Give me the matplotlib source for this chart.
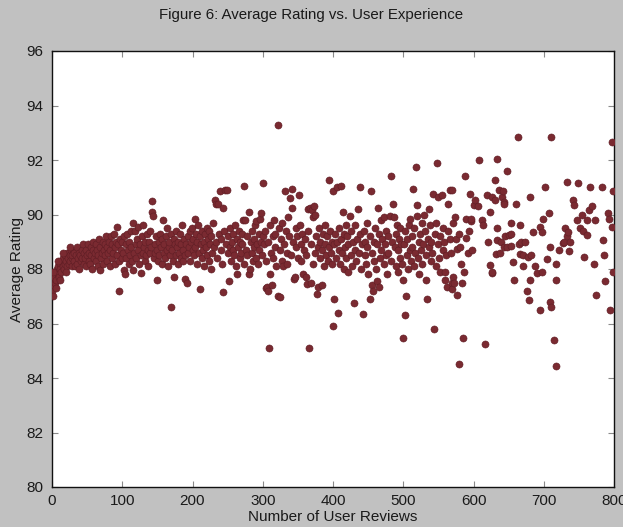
import matplotlib
matplotlib.use("Agg")
import matplotlib.pyplot as plt

# ---------------- data ----------------
reviews_a = [0, 1, 1, 2, 3, 4, 5, 6, 7, 8, 9, 10, 11, 12, 13, 14, 15, 16, 17, 18, 19, 20,
             21, 22, 23, 24, 25, 26, 27, 28, 29, 30, 2, 5, 8, 12, 16, 20, 25, 28]
rating_a = [87.2, 87.6, 87.0, 87.4, 87.7, 87.5, 87.9, 87.6, 88.0, 87.8, 88.1, 87.7, 88.2, 88.0,
            87.9, 88.3, 88.1, 88.4, 88.0, 88.2, 88.5, 88.3, 88.1, 88.6, 88.4, 88.2, 88.5, 88.3,
            88.7, 88.4, 88.1, 88.6, 87.9, 87.3, 88.3, 87.6, 88.6, 87.9, 88.8, 88.5]

reviews_b = [31, 32, 33, 34, 35, 36, 37, 38, 39, 40, 41, 42, 43, 44, 45, 46, 47, 48, 49, 50,
             51, 52, 53, 54, 55, 56, 57, 58, 59, 60, 61, 62, 63, 64, 65, 66, 67, 68, 69, 70,
             71, 72, 73, 74, 75, 76, 77, 78, 79, 80, 81, 82, 83, 84, 85, 86, 87, 88, 89, 90,
             91, 92, 93, 94, 95, 96, 97, 98, 99, 100]
rating_b = [88.3, 88.6, 88.1, 88.5, 88.8, 88.2, 88.4, 88.6, 88.0, 88.5,
            88.3, 88.7, 88.4, 88.9, 88.2, 88.6, 88.4, 88.1, 88.7, 88.5,
            88.9, 88.3, 88.6, 88.2, 88.8, 88.5, 88.0, 88.7, 89.0, 88.4,
            88.6, 88.9, 88.3, 88.7, 88.1, 88.5, 89.1, 87.95, 88.8, 88.4,
            88.6, 89.0, 88.2, 88.7, 88.9, 88.5, 89.2, 88.3, 88.8, 88.6,
            89.0, 88.1, 88.7, 89.2, 88.4, 88.9, 88.6, 89.3, 88.2, 88.8,
            89.0, 89.55, 88.5, 88.9, 88.3, 87.2, 89.1, 88.7, 88.4, 89.0]

reviews_c = [101, 102, 103, 104, 105, 106, 107, 108, 109, 110, 111, 112, 113, 114, 115, 116, 117,
             118, 119, 120, 121, 122, 123, 124, 125, 126, 127, 128, 129, 130, 131, 132, 133, 134,
             135, 136, 137, 138, 139, 140, 141, 142, 143, 144, 145, 146, 147, 148, 149, 150, 151,
             152, 153, 154, 155, 156, 157, 158, 159, 160, 161, 162, 163, 164, 165, 166, 167, 168,
             169, 170, 171, 172, 173, 174, 175, 176, 177, 178, 179, 180, 181, 182, 183, 184, 185,
             186, 187, 188, 189, 190, 191, 192, 193, 194, 195, 196, 197, 198, 199, 200]
rating_c = [88.6, 89.2, 87.95, 87.8, 88.9, 88.4, 89.3, 88.7, 88.2, 89.0,
            88.5, 88.8, 89.4, 88.3, 87.95, 89.7, 88.6, 89.4, 88.9, 88.4,
            89.1, 88.7, 89.55, 88.2, 88.9, 88.5, 87.85, 89.2, 88.6, 89.6,
            88.8, 88.3, 89.0, 88.5, 89.3, 88.7, 88.1, 89.0, 88.6, 89.4,
            88.8, 90.5, 90.1, 89.95, 88.4, 88.9, 88.6, 89.2, 87.6, 88.7,
            88.3, 89.0, 88.5, 89.3, 88.8, 88.2, 89.1, 89.8, 88.6, 88.9,
            88.4, 89.2, 88.7, 89.5, 88.1, 88.8, 89.0, 88.5, 86.6, 89.3,
            88.7, 88.3, 89.1, 87.7, 88.9, 88.5, 89.4, 88.8, 88.2, 89.0,
            88.6, 89.3, 88.4, 88.9, 89.6, 88.7, 88.3, 89.1, 88.5, 87.65,
            88.9, 87.5, 89.2, 88.6, 88.8, 89.4, 88.3, 89.0, 89.5, 88.7]

reviews_d = [201, 202, 203, 204, 205, 206, 207, 208, 209, 210,
             211, 212, 213, 214, 215, 216, 217, 218, 219, 220,
             221, 222, 223, 224, 225, 226, 227, 228, 229, 230,
             232, 233, 234, 235, 237, 238, 239, 240, 241, 242,
             244, 244, 245, 246, 247, 249, 250, 251, 252, 253,
             254, 255, 256, 257, 258, 259, 260, 262, 263, 264,
             265, 266, 267, 268, 269, 270, 271, 272, 273, 274,
             275, 276, 277, 278, 280, 281, 282, 283, 284, 285,
             286, 287, 288, 289, 290, 291, 292, 293, 294, 295,
             296, 297, 298, 299, 300]
rating_d = [89.1, 88.5, 89.85, 88.8, 89.3, 88.2, 89.0, 89.6, 88.6, 89.2,
            87.25, 88.9, 88.4, 89.4, 88.7, 89.0, 88.1, 89.3, 88.8, 89.5,
            88.5, 89.1, 88.3, 89.4, 88.9, 88.0, 89.2, 88.6, 89.7, 88.8,
            90.55, 89.0, 90.4, 88.4, 90.4, 89.3, 90.85, 88.7, 89.1, 88.2,
            90.25, 87.15, 89.4, 90.9, 88.9, 90.9, 88.6, 89.2, 87.55, 88.8,
            89.5, 88.3, 89.0, 88.7, 89.3, 88.5, 89.6, 88.1, 87.8, 89.1,
            88.8, 89.4, 88.4, 89.0, 88.6, 89.3, 88.9, 89.8, 91.05, 88.2,
            89.8, 88.7, 89.2, 88.5, 90.1, 87.8, 88.0, 89.0, 88.6, 89.4,
            88.3, 89.1, 88.8, 89.6, 88.4, 89.75, 88.9, 88.2, 89.3, 88.7,
            89.85, 89.0, 90.05, 88.5, 89.2]

reviews_e = [301, 302, 303, 304, 305, 306, 307, 308, 309, 310,
             311, 312, 313, 314, 315, 316, 317, 318, 319, 321,
             322, 323, 324, 325, 326, 327, 328, 329, 330, 332,
             333, 334, 335, 336, 337, 339, 340, 341, 341.5, 343,
             344, 346, 347, 348, 349, 350, 352, 353, 354, 355,
             356, 358, 359, 360, 361, 362, 363, 364, 365, 366,
             367, 368, 369, 370, 371, 372, 373, 374, 375, 376,
             377, 378, 379, 380, 381, 382, 384, 385, 386, 387,
             388, 389, 390, 392, 393, 394, 395, 396, 397, 398,
             399, 400]
rating_e = [91.15, 88.9, 89.4, 88.3, 87.3, 87.35, 89.0, 87.2, 85.1, 87.8,
            89.6, 88.6, 87.4, 89.2, 88.4, 89.8, 88.8, 89.3, 88.1, 93.3,
            87.0, 89.5, 86.98, 88.7, 89.1, 88.3, 89.7, 88.1, 88.9, 90.85,
            89.4, 88.2, 88.6, 89.9, 89.2, 90.6, 88.5, 90.95, 90.25, 89.0,
            87.65, 87.7, 89.5, 88.8, 89.2, 88.4, 90.7, 89.6, 88.9, 88.3,
            89.3, 87.8, 88.7, 89.1, 88.5, 87.7, 87.45, 89.4, 90.2, 85.1,
            90.25, 87.5, 88.9, 90.15, 88.2, 89.9, 90.3, 90.0, 88.6, 89.2,
            87.1, 88.8, 87.35, 89.5, 88.4, 89.0, 87.4, 88.7, 89.3, 88.1,
            89.6, 88.9, 88.5, 89.2, 88.3, 88.8, 91.25, 89.4, 88.6, 89.0,
            88.2, 90.85]

reviews_f = [400.5, 401, 402, 403, 404, 405, 406, 407, 408, 409,
             410, 411, 412, 413, 414, 415, 416, 417, 418, 419,
             420, 421, 422, 424, 425, 426, 427, 428, 430, 431,
             432, 433, 434, 436, 437, 438, 439, 440, 441, 443,
             444, 445, 446, 447, 448, 449, 450, 452, 453, 454,
             455, 456, 457, 458, 459, 460, 461, 462, 463, 464,
             465, 466, 467, 468, 469, 470, 472, 473, 474, 475,
             476, 477, 478, 479, 481, 482, 483, 484, 486, 486.5,
             488, 489, 490, 491, 492, 493, 494, 495, 496, 497,
             498, 499, 500]
rating_f = [85.9, 88.9, 86.9, 89.3, 88.4, 91.0, 89.0, 86.4, 88.7, 89.5,
            88.2, 89.1, 91.05, 88.6, 90.1, 89.3, 88.0, 88.8, 89.6, 88.4,
            89.2, 87.9, 88.9, 89.95, 88.5, 89.4, 88.1, 89.0, 86.75, 88.7,
            89.6, 88.3, 89.1, 90.2, 88.6, 89.3, 91.0, 88.0, 88.9, 86.35,
            89.4, 88.5, 89.0, 88.2, 89.7, 88.8, 87.8, 86.9, 89.2, 90.85,
            87.4, 88.6, 87.2, 89.0, 88.3, 89.5, 88.0, 87.55, 88.9, 90.25,
            87.35, 89.3, 88.4, 89.8, 88.7, 89.1, 89.9, 88.2, 88.9, 89.4,
            88.5, 87.8, 89.2, 88.6, 89.95, 91.4, 88.3, 89.0, 90.4, 89.9,
            88.8, 89.3, 88.1, 89.6, 88.7, 87.9, 89.1, 88.4, 89.5, 88.9,
            88.2, 85.45, 87.6]

reviews_g = [501, 502, 503, 504, 505, 506, 507, 508, 509, 510,
             511, 512, 513, 514, 515, 516, 517, 518, 519, 520,
             521, 522, 523, 524, 525, 526, 527, 528, 530, 531,
             532, 533, 534, 535, 536, 537, 538, 539, 540, 541,
             543, 544, 545, 546, 547, 548, 549, 550, 551, 552,
             553, 555, 556, 557, 558, 559, 560, 561, 562, 563,
             564, 566, 567, 568, 569, 569.5, 570, 570.5, 571, 572,
             574, 574.5, 576, 577, 579, 580, 581, 582, 583, 585,
             586, 588, 589, 590, 592, 593, 595, 596, 597, 598,
             600]
rating_g = [88.9, 86.3, 89.4, 87.0, 88.5, 89.1, 88.0, 89.6, 88.7, 89.85,
            88.3, 89.2, 88.8, 90.95, 88.1, 89.5, 88.6, 91.75, 90.35, 89.95,
            88.4, 89.0, 87.8, 89.3, 88.7, 89.7, 88.2, 88.9, 90.0, 89.4,
            88.5, 87.6, 86.9, 89.1, 90.2, 88.8, 89.6, 88.3, 89.0, 88.6,
            90.75, 85.8, 89.3, 88.1, 89.7, 91.9, 88.9, 90.65, 88.4, 89.2,
            87.9, 90.7, 89.5, 88.7, 89.0, 87.9, 87.6, 88.5, 87.35, 89.4,
            90.4, 90.9, 89.1, 88.6, 87.5, 87.25, 90.9, 89.7, 87.7, 87.5,
            89.9, 89.1, 87.05, 88.75, 89.3, 84.5, 88.8, 88.2, 87.5, 85.45,
            87.9, 91.4, 89.15, 89.85, 88.6, 89.4, 90.75, 89.75, 89.85, 88.7,
            90.35]

reviews_h = [602, 607, 607.5, 612, 614, 616, 619, 621, 623, 624,
             626, 626.5, 627, 630, 631, 632, 633, 633.5, 634, 637,
             638, 638.5, 641, 642, 643, 643.5, 644, 645, 647, 648,
             651, 653, 653.5, 654, 656, 657, 661, 664, 665, 666,
             666.5, 668, 670, 671, 673, 676, 678, 679, 680, 681,
             682, 685, 687, 691, 694, 695, 697, 698, 699]
rating_h = [90.55, 90.3, 92.0, 89.8, 89.6, 85.25, 90.7, 89.0, 90.1, 88.15,
            90.65, 87.85, 87.9, 91.25, 90.55, 88.55, 89.5, 89.05, 92.05, 90.9,
            88.6, 89.0, 90.65, 90.85, 88.8, 90.45, 90.4, 89.2, 88.8, 91.6,
            89.25, 88.85, 89.3, 89.7, 88.25, 87.6, 90.4, 92.85, 88.9, 89.6,
            88.55, 89.0, 88.1, 88.5, 89.0, 87.2, 88.45, 86.85, 90.65, 87.6,
            88.5, 89.35, 88.1, 87.85, 89.55, 86.5, 89.35, 87.9, 89.85]

reviews_i = [702, 705, 708, 709, 709.5, 710, 711, 715, 717, 717.5,
             718, 722, 727, 729, 730, 732.6, 733, 735, 736, 737,
             742, 742.5, 747, 749, 752, 754, 756, 757, 761, 761.5,
             765, 766, 768, 771.5, 773, 775, 782.5, 784, 786, 787,
             792, 793, 794, 796.7, 797.6, 798, 799]
rating_i = [91.0, 88.35, 90.05, 88.8, 86.8, 86.6, 92.85, 85.4, 87.6, 88.2,
            84.45, 88.7, 88.95, 89.0, 89.5, 91.2, 89.2, 89.35, 88.65, 89.0,
            90.55, 90.35, 89.8, 91.15, 89.5, 90.0, 89.4, 88.45, 89.8, 89.25,
            90.15, 91.0, 90.3, 88.2, 89.8, 87.05, 91.0, 89.05, 88.5, 87.55,
            90.05, 89.85, 86.5, 89.55, 92.65, 87.9, 90.85]

x_ticks = [0, 100, 200, 300, 400, 500, 600, 700, 800]
y_ticks = [80, 82, 84, 86, 88, 90, 92, 94, 96]

title_text = "Figure 6: Average Rating vs. User Experience"
x_label = "Number of User Reviews"
y_label = "Average Rating"

# ---------------- drawing ----------------
plt.rcParams['font.family'] = ['Liberation Sans', 'DejaVu Sans']

reviews, ratings = [], []
for xs, ys in [(reviews_a, rating_a), (reviews_b, rating_b), (reviews_c, rating_c),
               (reviews_d, rating_d), (reviews_e, rating_e), (reviews_f, rating_f),
               (reviews_g, rating_g), (reviews_h, rating_h), (reviews_i, rating_i)]:
    for xv, yv in zip(xs, ys):
        reviews.append(xv)
        ratings.append(yv)

BG = '#c1c1c1'
fig = plt.figure(figsize=(6.23, 5.27), dpi=100, facecolor=BG)
ax = fig.add_axes([52 / 623, 1 - 487 / 527, (614 - 52) / 623, (487 - 51) / 527])
ax.set_facecolor('white')

ax.scatter(reviews, ratings, s=26, c='#7a2a31', edgecolors='#5e1d24', linewidths=0.4, zorder=3)

ax.set_xlim(0, 800)
ax.set_ylim(80, 96)
ax.set_xticks(x_ticks)
ax.set_yticks(y_ticks)
ax.tick_params(direction='in', length=4, width=0.8, color='#8a8a8a',
               top=True, right=True, labelsize=11, labelcolor='#1a1a1a')
ax.tick_params(axis='x', pad=5)
ax.tick_params(axis='y', pad=6)
for sp in ax.spines.values():
    sp.set_color('#111111')
    sp.set_linewidth(1.0)

ax.set_xlabel(x_label, fontsize=11, color='#1a1a1a', labelpad=1.5)
ax.set_ylabel(y_label, fontsize=11, color='#1a1a1a', labelpad=2)
fig.text(0.5, 1 - 15 / 527, title_text, ha='center', va='center', fontsize=10.8, color='#1a1a1a')

fig.savefig('out.png', dpi=100, facecolor=BG)
